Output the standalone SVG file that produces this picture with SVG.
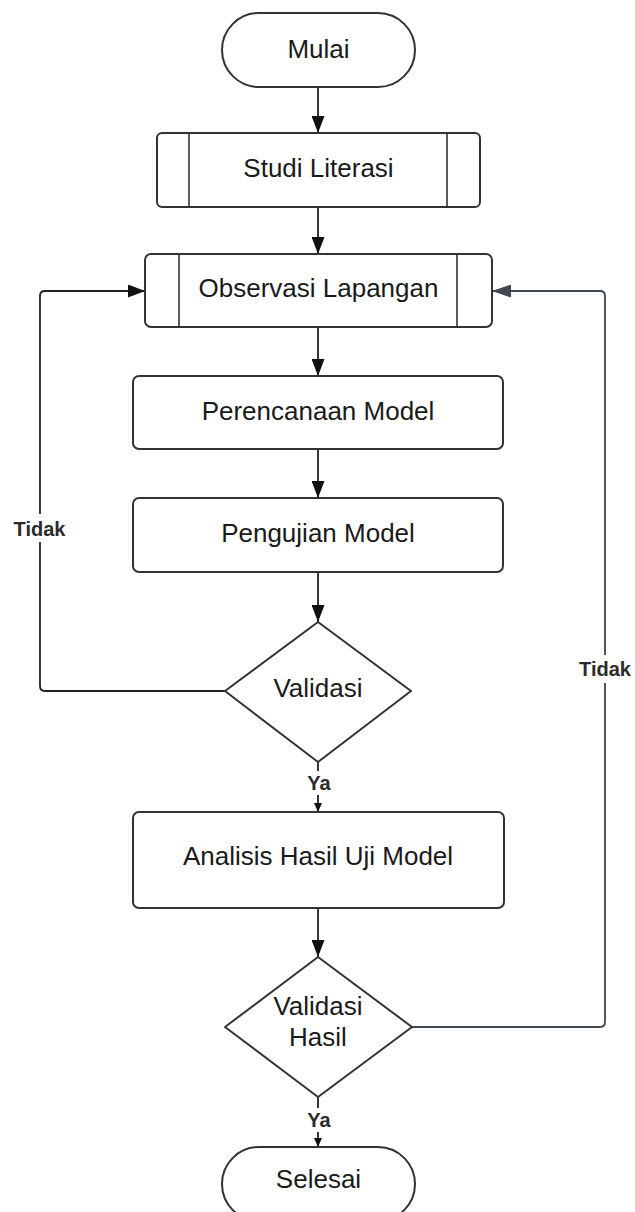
<svg xmlns="http://www.w3.org/2000/svg" width="635" height="1212" viewBox="0 0 635 1212">
  <style>
    .shape { fill: #ffffff; stroke: #333333; stroke-width: 2; }
    .inner { stroke: #333333; stroke-width: 1.6; fill: none; }
    .txt { font-family: "Liberation Sans", Arial, sans-serif; font-size: 26px; fill: #1a1a1a; text-anchor: middle; dominant-baseline: central; }
    .lbl { font-family: "Liberation Sans", Arial, sans-serif; font-size: 20px; font-weight: bold; fill: #2b2b2b; text-anchor: middle; dominant-baseline: central; }
    .edge { fill: none; stroke: #222222; stroke-width: 1.8; }
    .edge-back { fill: none; stroke: #3f4654; stroke-width: 1.8; }
    .bg { fill: #ffffff; }
  </style>
  <defs>
    <marker id="arrow" markerUnits="userSpaceOnUse" markerWidth="17" markerHeight="13" refX="17" refY="6.5" orient="auto">
      <path d="M0,0 L17,6.5 L0,13 z" fill="#111111"/>
    </marker>
    <marker id="arrow-slate" markerUnits="userSpaceOnUse" markerWidth="19" markerHeight="13" refX="19" refY="6.5" orient="auto">
      <path d="M0,0 L19,6.5 L0,13 z" fill="#3f4654"/>
    </marker>
    <marker id="arrow-small" markerUnits="userSpaceOnUse" markerWidth="9" markerHeight="8" refX="9" refY="4" orient="auto">
      <path d="M0,0 L9,4 L0,8 z" fill="#111111"/>
    </marker>
  </defs>
  <rect width="635" height="1212" fill="#ffffff"/>

  <g id="connectors">
    <line class="edge" x1="318" y1="87" x2="318" y2="133" marker-end="url(#arrow)"/>
    <line class="edge" x1="318" y1="207" x2="318" y2="254" marker-end="url(#arrow)"/>
    <line class="edge" x1="318" y1="327" x2="318" y2="376" marker-end="url(#arrow)"/>
    <line class="edge" x1="318" y1="449" x2="318" y2="498" marker-end="url(#arrow)"/>
    <line class="edge" x1="318" y1="572" x2="318" y2="622" marker-end="url(#arrow)"/>
    <line class="edge" x1="318" y1="762" x2="318" y2="812" marker-end="url(#arrow-small)"/>
    <line class="edge" x1="318" y1="908" x2="318" y2="957" marker-end="url(#arrow)"/>
    <line class="edge" x1="318" y1="1097" x2="318" y2="1147" marker-end="url(#arrow-small)"/>
    <!-- Validasi: Tidak loop back to Observasi Lapangan (left side) -->
    <path class="edge" d="M225,691 H45 Q40,691 40,686 V296 Q40,291 45,291 H145" marker-end="url(#arrow)"/>
    <!-- Validasi Hasil: Tidak loop back to Observasi Lapangan (right side) -->
    <path class="edge-back" d="M412,1027 H600 Q605,1027 605,1022 V296 Q605,291 600,291 H492" marker-end="url(#arrow-slate)"/>
  </g>

  <g id="edge-labels">
    <rect class="bg" x="10" y="514" width="60" height="28"/>
    <text class="lbl" x="39.5" y="529">Tidak</text>
    <rect class="bg" x="576" y="655" width="58" height="28"/>
    <text class="lbl" x="605" y="669">Tidak</text>
    <rect class="bg" x="304" y="771" width="30" height="24"/>
    <text class="lbl" x="319" y="783">Ya</text>
    <rect class="bg" x="304" y="1108" width="30" height="24"/>
    <text class="lbl" x="319" y="1120">Ya</text>
  </g>

  <g id="mulai">
    <rect class="shape" x="222" y="13" width="193" height="74" rx="37" ry="37"/>
    <text class="txt" x="318.5" y="49">Mulai</text>
  </g>

  <g id="studi-literasi">
    <rect class="shape" x="157" y="133" width="323" height="74" rx="5" ry="5"/>
    <line class="inner" x1="189" y1="133" x2="189" y2="207"/>
    <line class="inner" x1="447" y1="133" x2="447" y2="207"/>
    <text class="txt" x="318.5" y="168">Studi Literasi</text>
  </g>

  <g id="observasi-lapangan">
    <rect class="shape" x="145" y="254" width="347" height="73" rx="6" ry="6"/>
    <line class="inner" x1="179" y1="254" x2="179" y2="327"/>
    <line class="inner" x1="457" y1="254" x2="457" y2="327"/>
    <text class="txt" x="318.5" y="288">Observasi Lapangan</text>
  </g>

  <g id="perencanaan-model">
    <rect class="shape" x="133" y="376" width="370" height="73" rx="6" ry="6"/>
    <text class="txt" x="318" y="411">Perencanaan Model</text>
  </g>

  <g id="pengujian-model">
    <rect class="shape" x="133" y="498" width="370" height="74" rx="6" ry="6"/>
    <text class="txt" x="318" y="533">Pengujian Model</text>
  </g>

  <g id="validasi">
    <path class="shape" d="M318,622 L411,691 L318,762 L225,691 Z" stroke-linejoin="round"/>
    <text class="txt" x="318" y="688">Validasi</text>
  </g>

  <g id="analisis-hasil">
    <rect class="shape" x="133" y="812" width="371" height="96" rx="6" ry="6"/>
    <text class="txt" x="318" y="856">Analisis Hasil Uji Model</text>
  </g>

  <g id="validasi-hasil">
    <path class="shape" d="M318,957 L412,1027 L318,1097 L225,1027 Z" stroke-linejoin="round"/>
    <text class="txt" x="318" y="1006">Validasi</text>
    <text class="txt" x="318" y="1037">Hasil</text>
  </g>

  <g id="selesai">
    <rect class="shape" x="222" y="1147" width="193" height="74" rx="37" ry="37"/>
    <text class="txt" x="318.5" y="1179">Selesai</text>
  </g>
</svg>
